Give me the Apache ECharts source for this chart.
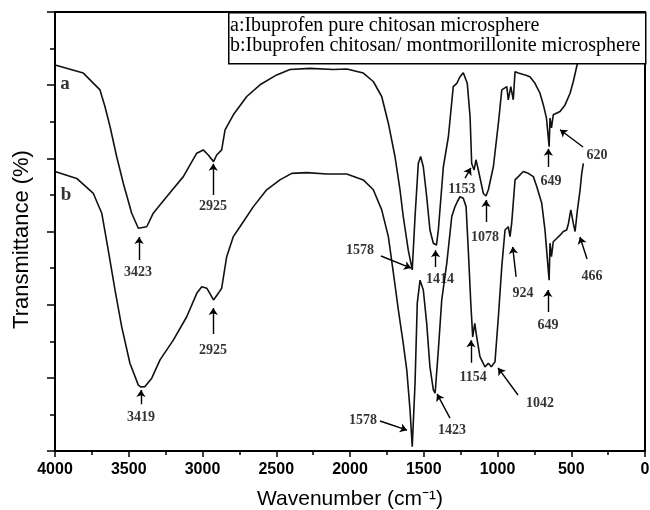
<!DOCTYPE html>
<html>
<head>
<meta charset="utf-8">
<script src="https://cdn.jsdelivr.net/npm/echarts@6/dist/echarts.min.js"></script>
<style>html,body{margin:0;padding:0;background:#fff;}#c{width:650px;height:510px;}</style>
</head>
<body>
<div id="c"></div>
<script>
// Curve a: Ibuprofen pure chitosan microsphere
var wnA = [4000, 3808, 3695, 3661, 3627, 3582, 3537, 3480, 3435, 3423, 3378, 3334, 3243, 3130, 3039, 2995, 2961, 2925, 2904, 2870, 2847, 2791, 2700, 2610, 2497, 2407, 2271, 2113, 2022, 1910, 1842, 1785, 1740, 1695, 1661, 1639, 1605, 1578, 1559, 1537, 1521, 1503, 1480, 1458, 1435, 1414, 1401, 1367, 1333, 1300, 1276, 1254, 1232, 1205, 1186, 1175, 1159, 1146, 1130, 1096, 1078, 1062, 1028, 994, 971, 937, 927, 910, 893, 881, 859, 813, 780, 746, 712, 689, 668, 650, 644, 634, 622, 576, 542, 508, 486, 463, 452, 427, 400];
var tA = [10.55, 10.33, 9.87, 9.41, 8.87, 8.05, 7.32, 6.50, 6.09, 6.07, 6.13, 6.50, 6.95, 7.50, 8.14, 8.23, 8.09, 7.91, 8.09, 8.23, 8.78, 9.19, 9.69, 10.01, 10.28, 10.43, 10.46, 10.43, 10.44, 10.33, 10.10, 9.69, 8.96, 8.05, 7.14, 6.41, 5.49, 4.95, 6.41, 7.86, 8.05, 7.77, 6.95, 6.04, 5.68, 5.63, 6.04, 7.77, 8.59, 9.96, 10.05, 10.23, 10.34, 10.05, 9.14, 7.86, 7.68, 7.96, 7.68, 7.04, 6.97, 7.14, 7.77, 8.96, 9.87, 9.96, 9.60, 9.96, 9.60, 10.37, 10.33, 10.28, 10.23, 10.05, 9.78, 9.46, 9.10, 8.32, 9.10, 8.83, 9.19, 9.28, 9.46, 9.78, 10.10, 10.51, 10.69, 11.10, 11.8];

// Curve b: Ibuprofen chitosan/montmorillonite microsphere
var wnB = [4000, 3853, 3740, 3683, 3639, 3593, 3548, 3492, 3435, 3419, 3390, 3344, 3288, 3198, 3107, 3039, 3005, 2971, 2925, 2893, 2870, 2836, 2791, 2746, 2655, 2565, 2475, 2395, 2293, 2158, 2022, 1910, 1842, 1785, 1740, 1706, 1672, 1639, 1615, 1593, 1578, 1559, 1544, 1525, 1503, 1480, 1458, 1435, 1423, 1401, 1378, 1344, 1310, 1288, 1272, 1254, 1232, 1213, 1198, 1181, 1168, 1154, 1141, 1119, 1085, 1062, 1042, 1017, 994, 971, 949, 927, 915, 904, 893, 881, 859, 825, 791, 757, 734, 700, 678, 667, 650, 644, 634, 622, 599, 576, 554, 531, 519, 503, 486, 474, 458, 440, 429, 418];
var tB = [7.64, 7.45, 7.04, 6.50, 5.49, 4.40, 3.40, 2.40, 1.80, 1.75, 1.76, 1.99, 2.49, 3.03, 3.67, 4.31, 4.49, 4.45, 4.13, 4.31, 4.45, 5.31, 5.86, 6.13, 6.68, 7.14, 7.41, 7.59, 7.61, 7.57, 7.57, 7.41, 7.14, 6.59, 5.86, 4.87, 3.85, 2.94, 2.21, 1.12, 0.12, 1.85, 4.04, 4.67, 4.40, 3.49, 2.30, 1.67, 1.58, 2.76, 4.13, 5.13, 6.41, 6.68, 6.82, 6.95, 6.91, 6.68, 5.49, 4.04, 3.12, 3.49, 3.12, 2.58, 2.30, 2.40, 2.30, 2.44, 3.67, 5.04, 6.04, 6.13, 5.86, 6.22, 6.22, 7.41, 7.50, 7.64, 7.59, 7.50, 7.23, 6.77, 6.04, 5.49, 4.67, 5.68, 5.31, 5.72, 5.81, 5.90, 6.00, 6.04, 6.22, 6.59, 6.22, 6.00, 6.59, 7.14, 7.59, 7.86];

// Peak annotations (label, label position, arrow tail, arrow head) in data units
var annoLabel  = ['3423', '2925', '1578', '1414', '1153', '1078', '649', '620', '3419', '2925', '1578', '1423', '1154', '1042', '924', '649', '466'];
var annoWn     = [3437, 2929, 1932, 1390, 1241, 1085, 637, 325, 3417, 2929, 1912, 1308, 1166, 712, 827, 657, 359];
var annoT      = [4.87, 6.70, 5.49, 4.70, 7.14, 5.85, 7.38, 8.09, 0.93, 2.76, 0.85, 0.57, 2.02, 1.31, 4.32, 3.44, 4.78];
var arrFromWn  = [3430, 2927, 1790, 1420, 1220, 1078, 655, 420, 3417, 2927, 1797, 1322, 1180, 861, 874, 659, 393];
var arrFromT   = [5.22, 7.00, 5.33, 5.03, 7.46, 6.26, 7.76, 8.31, 1.28, 3.20, 0.82, 0.90, 2.41, 1.53, 4.76, 3.80, 5.25];
var arrToWn    = [3430, 2927, 1586, 1420, 1180, 1078, 655, 576, 3417, 2927, 1613, 1410, 1180, 996, 897, 659, 441];
var arrToT     = [5.85, 7.85, 5.00, 5.49, 7.74, 6.86, 8.26, 8.78, 1.67, 3.91, 0.57, 1.56, 3.03, 2.27, 5.58, 4.40, 5.85];

var curveNames = ['a', 'b'];
var curveLabelWn = [3932, 3925];
var curveLabelT = [10.03, 7.0];

var legendLines = ['a:Ibuprofen pure chitosan microsphere', 'b:Ibuprofen chitosan/ montmorillonite microsphere'];

var xTicks = {min: 0, max: 4000, interval: 500};
var yTicks = {min: 0, max: 12, interval: 2};

function pairs(xs, ys) { return xs.map(function (x, i) { return [x, ys[i]]; }); }

var chart = echarts.init(document.getElementById('c'), null, {renderer: 'canvas'});
var serif = '"Liberation Serif", "Times New Roman", serif';
var sans = '"Liberation Sans", Arial, sans-serif';

var option = {
  animation: false,
  backgroundColor: '#fff',
  grid: {left: 55, right: 5, top: 12, bottom: 59, outerBoundsMode: 'none', containLabel: false,
         show: true, borderColor: '#000', borderWidth: 2, backgroundColor: 'transparent'},
  xAxis: {
    type: 'value', inverse: true, min: xTicks.min, max: xTicks.max, interval: xTicks.interval,
    name: 'Wavenumber (cm\u207B\u00B9)', nameLocation: 'middle', nameGap: 38,
    nameTextStyle: {fontFamily: sans, fontSize: 21, color: '#000'},
    axisLine: {onZero: false, lineStyle: {color: '#000', width: 2}},
    axisTick: {show: true, inside: false, length: 6, lineStyle: {color: '#000', width: 1.5}},
    minorTick: {show: true, splitNumber: 2, length: 4, lineStyle: {color: '#000', width: 1.5}},
    axisLabel: {fontFamily: sans, fontSize: 16, fontWeight: 'bold', color: '#000', margin: 11,
                showMinLabel: true, showMaxLabel: true, formatter: function (v) { return String(v); }},
    splitLine: {show: false}, minorSplitLine: {show: false}
  },
  yAxis: {
    type: 'value', min: yTicks.min, max: yTicks.max, interval: yTicks.interval,
    name: 'Transmittance (%)', nameLocation: 'middle', nameGap: 22,
    nameTextStyle: {fontFamily: sans, fontSize: 22, color: '#000', padding: [0, 16, 0, 0]},
    axisLine: {show: true, onZero: false, lineStyle: {color: '#000', width: 2}},
    axisTick: {show: true, inside: false, length: 8, lineStyle: {color: '#000', width: 1.5}},
    minorTick: {show: true, splitNumber: 2, length: 5, lineStyle: {color: '#000', width: 1.5}},
    axisLabel: {show: false},
    splitLine: {show: false}, minorSplitLine: {show: false}
  },
  series: [
    {name: 'a', type: 'line', data: pairs(wnA, tA), showSymbol: false, symbol: 'none', smooth: false,
     lineStyle: {color: '#111', width: 1.6}, z: 2},
    {name: 'b', type: 'line', data: pairs(wnB, tB), showSymbol: false, symbol: 'none', smooth: false,
     lineStyle: {color: '#111', width: 1.6}, z: 2},
    {name: 'arrows', type: 'lines', coordinateSystem: 'cartesian2d', z: 3,
     symbol: ['none', 'arrow'], symbolSize: 7,
     lineStyle: {color: '#000', width: 1.4, opacity: 1, curveness: 0},
     data: annoLabel.map(function (l, i) { return {coords: [[arrFromWn[i], arrFromT[i]], [arrToWn[i], arrToT[i]]]}; })},
    {name: 'peaks', type: 'scatter', z: 4, symbolSize: 1, itemStyle: {color: 'rgba(0,0,0,0)'},
     label: {show: true, position: 'inside', formatter: function (p) { return p.name; },
             fontFamily: serif, fontSize: 14, fontWeight: 'bold', color: '#000'},
     data: annoLabel.map(function (l, i) { return {name: l, value: [annoWn[i], annoT[i]]}; })},
    {name: 'curveLabels', type: 'scatter', z: 4, symbolSize: 1, itemStyle: {color: 'rgba(0,0,0,0)'},
     label: {show: true, position: 'inside', formatter: function (p) { return p.name; },
             fontFamily: serif, fontSize: 19, fontWeight: 'bold', color: '#000'},
     data: curveNames.map(function (l, i) { return {name: l, value: [curveLabelWn[i], curveLabelT[i]]}; })}
  ],
  graphic: [
    {type: 'rect', left: 228, top: 12, z: 100, shape: {width: 417, height: 51},
     style: {fill: '#fff', stroke: '#000', lineWidth: 1.5}},
    {type: 'text', left: 230, top: 16, z: 101,
     style: {text: legendLines.join('\n'), font: '20px ' + serif, lineHeight: 20, fill: '#000'}}
  ]
};
chart.setOption(option);
</script>
</body>
</html>
